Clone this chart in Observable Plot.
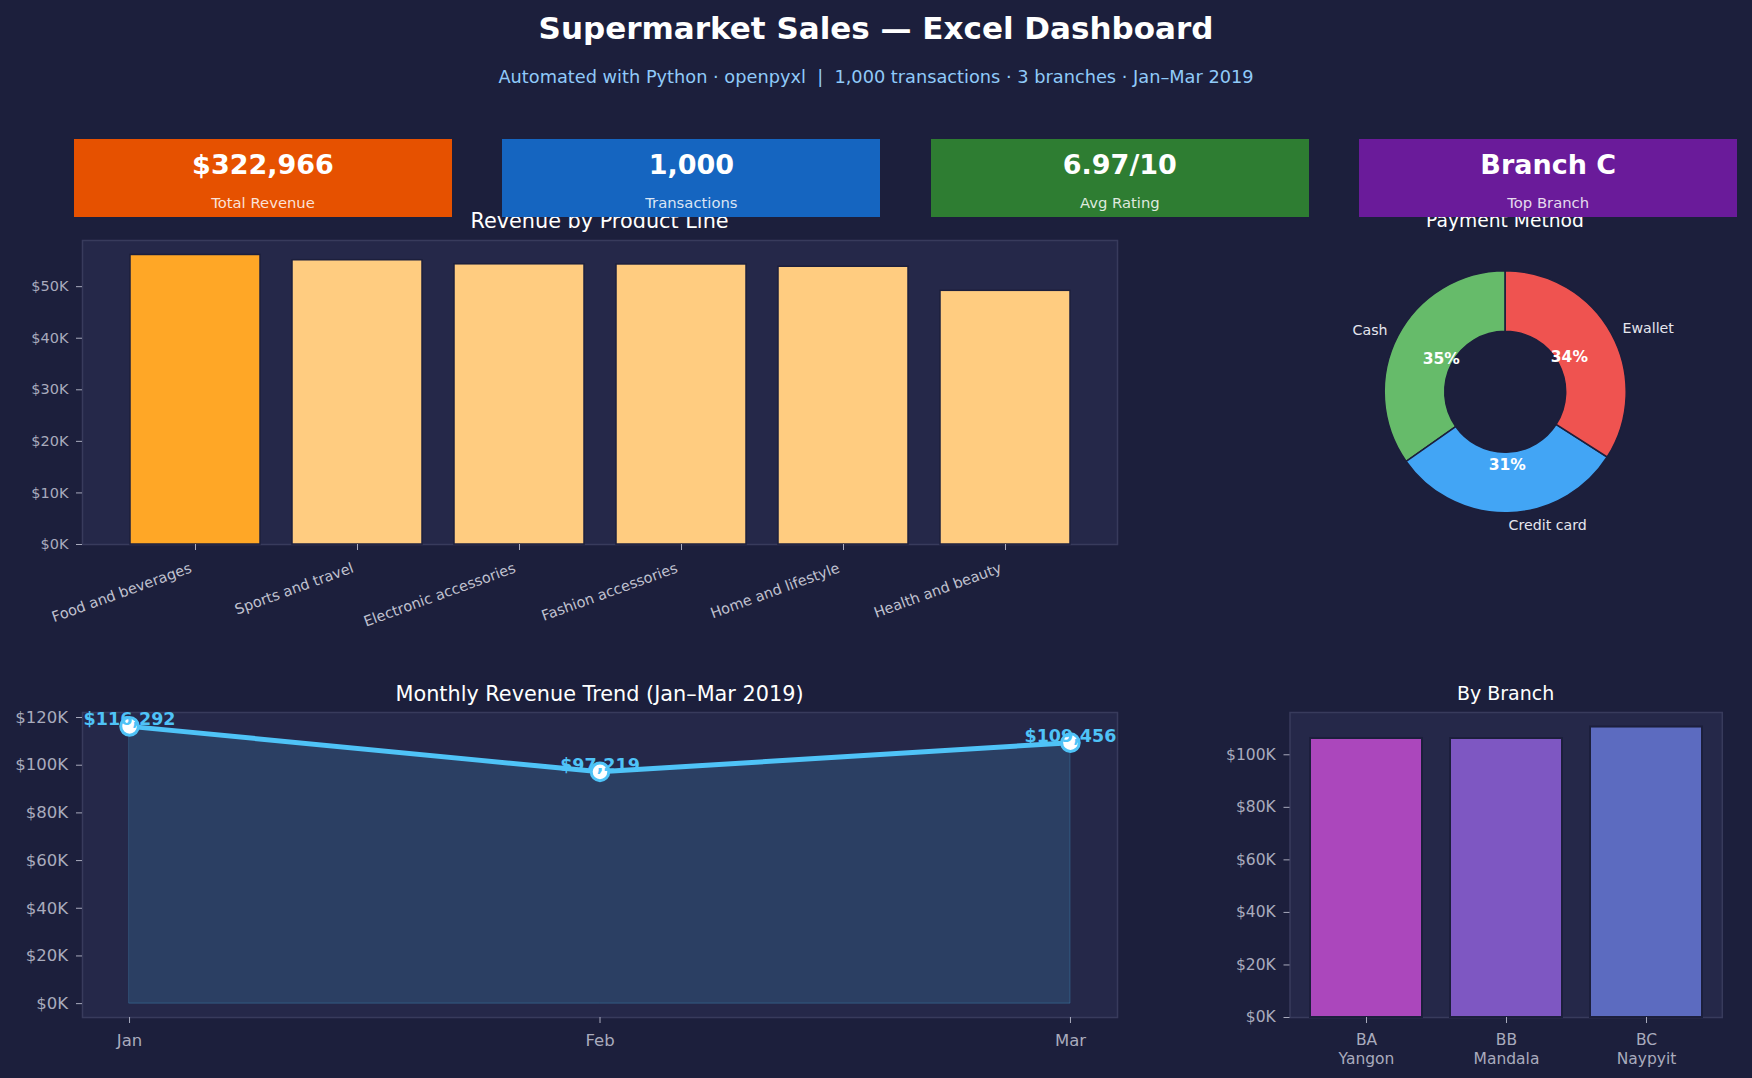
<!DOCTYPE html>
<html>
<head>
<meta charset="utf-8">
<script src="https://cdn.jsdelivr.net/npm/d3@7"></script>
<script src="https://cdn.jsdelivr.net/npm/@observablehq/plot@0.6"></script>
<style>
html, body { margin: 0; padding: 0; background: #1c1f3c; }
#root { position: relative; width: 1752px; height: 1078px; overflow: hidden; background: #1c1f3c; font-family: "DejaVu Sans", sans-serif; }
.txt { position: absolute; line-height: 1; white-space: pre; transform: translateX(-50%); }
.box { position: absolute; z-index: 2; }
.chart { position: absolute; }
.chart svg { overflow: visible; }
</style>
</head>
<body>
<div id="root"></div>
<script>
// ---------------- DATA ----------------
const products = ["Food and beverages", "Sports and travel", "Electronic accessories", "Fashion accessories", "Home and lifestyle", "Health and beauty"];
const productRevenue = [56144.84, 55122.83, 54337.53, 54305.90, 53861.91, 49193.74];

const paymentMethods = ["Cash", "Credit card", "Ewallet"];
const paymentRevenue = [112206.57, 100767.07, 109993.11];

const months = ["Jan", "Feb", "Mar"];
const monthlyRevenue = [116291.87, 97219.37, 109455.51];

const branchCodes = ["BA", "BB", "BC"];
const branchCities = ["Yangon", "Mandala", "Naypyit"];
const branchRevenue = [106200.37, 106197.67, 110568.71];

const kpiValues = ["$322,966", "1,000", "6.97/10", "Branch C"];
const kpiLabels = ["Total Revenue", "Transactions", "Avg Rating", "Top Branch"];

const titleText = "Supermarket Sales — Excel Dashboard";
const subtitleText = "Automated with Python · openpyxl  |  1,000 transactions · 3 branches · Jan–Mar 2019";

// ---------------- STYLES ----------------
const FONT = '"DejaVu Sans", sans-serif';
const BG = "#1c1f3c";
const AX_BG = "#252849";
const SPINE = "#383b5c";
const TICK = "#a9abbd";
const XLAB = "#c0c2d0";
const LINE = "#4fc3f7";
const kpiColors = ["#e65100", "#1565c0", "#2e7d32", "#6a1b9a"];
const productColors = {top: "#ffa726", rest: "#ffcc80"};
const paymentColors = ["#66bb6a", "#42a5f5", "#ef5350"];
const branchColors = ["#ab47bc", "#7e57c2", "#5c6bc0"];

const root = document.getElementById("root");
const kfmt = v => "$" + Math.round(v / 1000) + "K";

function addText(txt, x, baseline, size, weight, color) {
  const d = document.createElement("div");
  d.className = "txt";
  d.textContent = txt;
  d.style.left = x + "px";
  d.style.top = (baseline - 0.846 * size) + "px";
  d.style.fontSize = size + "px";
  d.style.fontWeight = weight;
  d.style.color = color;
  root.appendChild(d);
  return d;
}
function place(node, left, top, width) {
  const d = document.createElement("div");
  d.className = "chart";
  d.style.left = left + "px";
  d.style.top = top + "px";
  d.style.width = width + "px";
  d.appendChild(node);
  root.appendChild(d);
}

// ---------------- HEADER ----------------
addText(titleText, 876, 38.8, 31, "bold", "#ffffff");
addText(subtitleText, 876, 83.8, 17.75, "normal", "#90caf9");

// section titles (behind KPI boxes)
addText("Revenue by Product Line", 599.5, 228.8, 20.8, "normal", "#ffffff");
addText("Payment Method", 1505, 228, 18.7, "normal", "#ffffff");
addText("Monthly Revenue Trend (Jan–Mar 2019)", 599.5, 701.8, 20.8, "normal", "#ffffff");
addText("By Branch", 1505.6, 700, 19, "normal", "#ffffff");

// ---------------- KPI BOXES ----------------
kpiValues.forEach((v, i) => {
  const left = 74 + i * 428.4;
  const b = document.createElement("div");
  b.className = "box";
  b.style.left = left + "px";
  b.style.top = "139px";
  b.style.width = "378px";
  b.style.height = "78px";
  b.style.background = kpiColors[i];
  root.appendChild(b);
  const t1 = addText(v, left + 189, 174, 27, "bold", "#ffffff");
  t1.style.zIndex = 3;
  const t2 = addText(kpiLabels[i], left + 189, 208.3, 14.8, "normal", "rgba(255,255,255,0.85)");
  t2.style.zIndex = 3;
});

// ---------------- PRODUCT LINE BARS ----------------
const prodData = products.map((p, i) => ({name: p, value: productRevenue[i]}));
const prodMax = d3.max(productRevenue);
const prodChart = Plot.plot({
  width: 1130, height: 410,
  marginLeft: 82, marginRight: 13, marginTop: 10, marginBottom: 96,
  style: {background: "transparent", fontFamily: FONT, overflow: "visible"},
  color: {type: "identity"},
  x: {type: "band", domain: products, paddingInner: 0.2, paddingOuter: 0.29, axis: null},
  y: {domain: [0, prodMax * 1.05], axis: null},
  marks: [
    Plot.frame({fill: AX_BG, stroke: SPINE, strokeWidth: 1.5}),
    Plot.barY(prodData, {x: "name", y: "value", fill: d => d.value === prodMax ? productColors.top : productColors.rest, stroke: BG, strokeWidth: 1.5}),
    Plot.axisY({ticks: d3.range(0, 50001, 10000), tickFormat: kfmt, tickSize: 6, tickPadding: 8, fontSize: 14.5, color: TICK, label: null}),
    Plot.axisX({tickSize: 6, tickFormat: () => "", color: TICK, label: null}),
    Plot.axisX({tickSize: 0, tickRotate: -20, tickPadding: 23, dx: -4.5, fontSize: 14.5, color: XLAB, label: null})
  ]
});
place(prodChart, 0, 230, 1130);

// ---------------- PAYMENT DONUT ----------------
const pieW = 420, pieH = 300, pcx = 205.2, pcy = 141.8, R = 121;
const payTotal = d3.sum(paymentRevenue);
const pieArcs = d3.pie().sort(null).startAngle(0).endAngle(-2 * Math.PI)(paymentRevenue);
const pieData = pieArcs.map((a, i) => {
  const mid = (a.startAngle + a.endAngle) / 2;
  return {
    name: paymentMethods[i],
    pct: Math.round(paymentRevenue[i] / payTotal * 100) + "%",
    lx: 1.1 * Math.sin(mid), ly: 1.1 * Math.cos(mid),
    px: 0.6 * Math.sin(mid), py: 0.6 * Math.cos(mid)
  };
});
const donut = (index, scales) => {
  const sx = scales.x, sy = scales.y;
  const cx = sx(0), cy = sy(0);
  const ro = sx(1) - sx(0), ri = ro * 0.5;
  const arc = d3.arc().innerRadius(ri).outerRadius(ro);
  const g = d3.create("svg:g").attr("transform", `translate(${cx},${cy})`);
  g.selectAll("path").data(pieArcs).join("path")
    .attr("d", arc)
    .attr("fill", (d, i) => paymentColors[i])
    .attr("stroke", BG)
    .attr("stroke-width", 1.5);
  return g.node();
};
const pieChart = Plot.plot({
  width: pieW, height: pieH, margin: 0,
  style: {background: "transparent", fontFamily: FONT, overflow: "visible"},
  x: {domain: [-pcx / R, (pieW - pcx) / R], range: [0, pieW], axis: null},
  y: {domain: [-(pieH - pcy) / R, pcy / R], range: [pieH, 0], axis: null},
  marks: [
    donut,
    Plot.text(pieData, {filter: d => d.lx < 0, x: "lx", y: "ly", text: "name", textAnchor: "end", fill: "#e6e6ee", fontSize: 14.2}),
    Plot.text(pieData, {filter: d => d.lx >= 0, x: "lx", y: "ly", text: "name", textAnchor: "start", fill: "#e6e6ee", fontSize: 14.2}),
    Plot.text(pieData, {x: "px", y: "py", text: "pct", fill: "#ffffff", fontWeight: "bold", fontSize: 15.5})
  ]
});
place(pieChart, 1300, 250, pieW);

// ---------------- MONTHLY TREND ----------------
const monthData = months.map((m, i) => ({i, m, value: monthlyRevenue[i]}));
const mMax = d3.max(monthlyRevenue);
const fmtUsd = d3.format(",");
const monthChart = Plot.plot({
  width: 1130, height: 378,
  marginLeft: 82, marginRight: 13, marginTop: 12, marginBottom: 61,
  style: {background: "transparent", fontFamily: FONT, overflow: "visible"},
  x: {domain: [-0.1, 2.1], axis: null},
  y: {domain: [-0.05 * mMax, 1.05 * mMax], axis: null},
  marks: [
    Plot.frame({fill: AX_BG, stroke: SPINE, strokeWidth: 1.5}),
    Plot.areaY(monthData, {x: "i", y1: 0, y2: "value", fill: LINE, fillOpacity: 0.15, stroke: LINE, strokeOpacity: 0.25, strokeWidth: 1}),
    Plot.lineY(monthData, {x: "i", y: "value", stroke: LINE, strokeWidth: 5}),
    Plot.dot(monthData, {x: "i", y: "value", r: 8.8, fill: "#ffffff", stroke: LINE, strokeWidth: 3}),
    Plot.text(monthData, {x: "i", y: "value", text: d => "$" + fmtUsd(Math.round(d.value)), dy: -6.5, fill: LINE, fontWeight: "bold", fontSize: 17.5}),
    Plot.axisY({ticks: d3.range(0, 120001, 20000), tickFormat: kfmt, tickSize: 6, tickPadding: 8.5, fontSize: 16.5, color: TICK, label: null}),
    Plot.axisX({ticks: [0, 1, 2], tickFormat: i => months[i], tickSize: 6, tickPadding: 11, fontSize: 16.5, color: TICK, label: null})
  ]
});
place(monthChart, 0, 700, 1130);

// ---------------- BY BRANCH ----------------
const branchData = branchCodes.map((c, i) => ({code: c, city: branchCities[i], value: branchRevenue[i], color: branchColors[i]}));
const bMax = d3.max(branchRevenue);
const branchChart = Plot.plot({
  width: 572, height: 378,
  marginLeft: 109.5, marginRight: 30.2, marginTop: 12, marginBottom: 61,
  style: {background: "transparent", fontFamily: FONT, overflow: "visible"},
  color: {type: "identity"},
  x: {type: "band", domain: branchCodes, paddingInner: 0.2, paddingOuter: 0.14, axis: null},
  y: {domain: [0, bMax * 1.05], axis: null},
  marks: [
    Plot.frame({fill: AX_BG, stroke: SPINE, strokeWidth: 1.5}),
    Plot.barY(branchData, {x: "code", y: "value", fill: "color", stroke: BG, strokeWidth: 2}),
    Plot.axisY({ticks: d3.range(0, 100001, 20000), tickFormat: kfmt, tickSize: 6, tickPadding: 8.3, fontSize: 15.5, color: TICK, label: null}),
    Plot.axisX({tickFormat: c => c + "\n" + branchCities[branchCodes.indexOf(c)], tickSize: 6, tickPadding: 9, fontSize: 15.5, lineHeight: 1.17, color: TICK, label: null})
  ]
});
place(branchChart, 1180, 700, 572);
</script>
</body>
</html>
